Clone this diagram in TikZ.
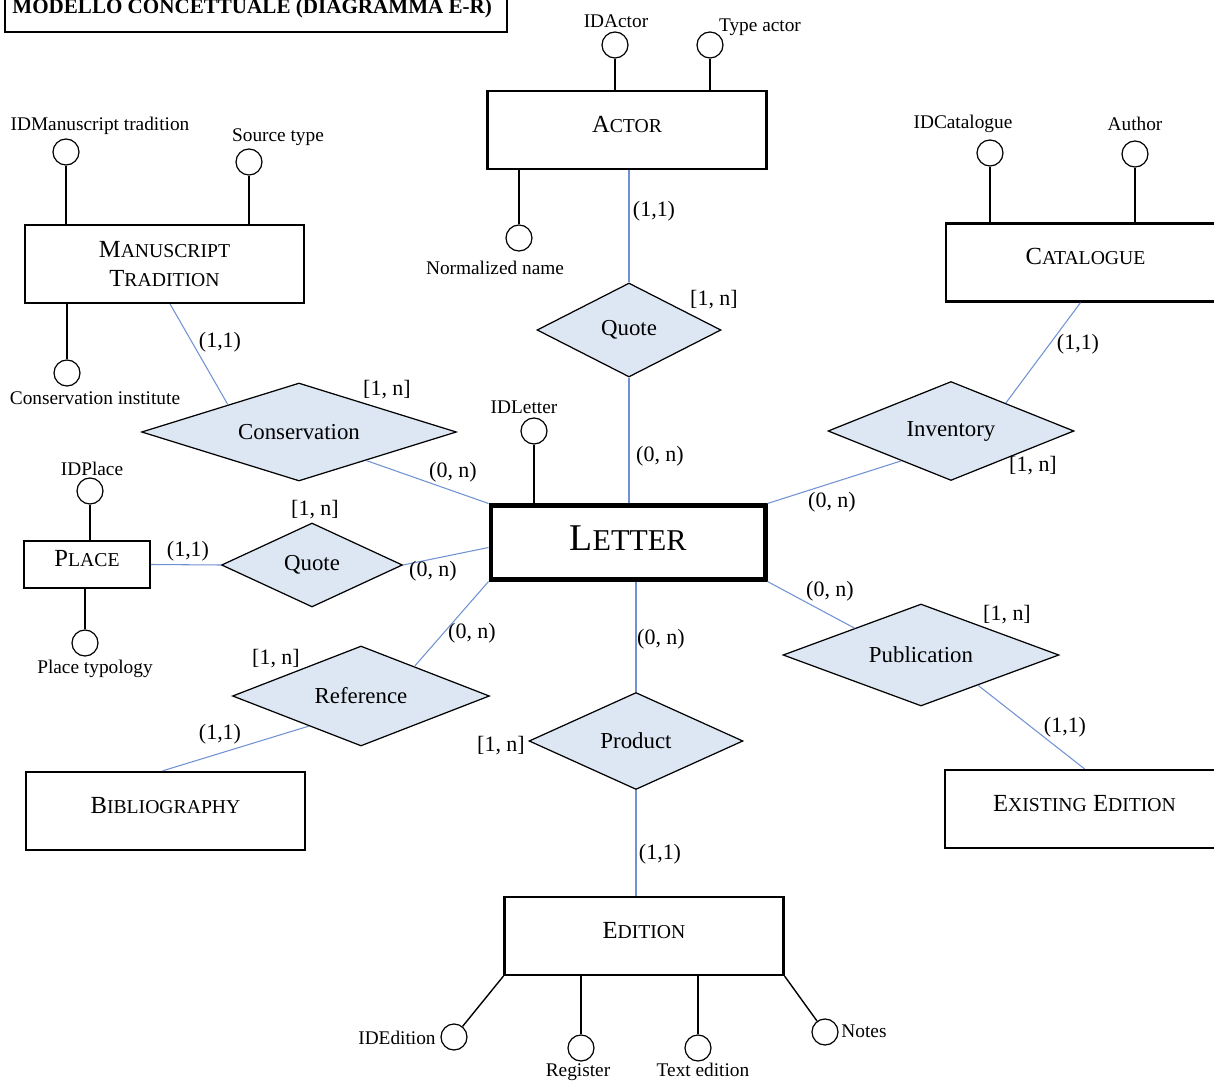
\documentclass[tikz,border=0pt]{standalone}
\usepackage{fontspec}
\setmainfont{Liberation Serif}
\usepackage{graphicx}
\usetikzlibrary{shapes.geometric}
\definecolor{lnkblue}{RGB}{112,146,210}
\definecolor{relfill}{RGB}{221,231,243}
\newcommand{\smcap}[2]{#1\scalebox{0.8}{#2}}

\begin{document}
\begin{tikzpicture}[x=0.02cm, y=-0.02cm,
  ent/.style={draw, line width=1.3pt, minimum width=5.58cm, minimum height=1.56cm,
              inner sep=0pt, align=center, font=\fontsize{14}{17}\selectfont},
  ent1/.style={ent, text height=0.3cm, text depth=0.21cm},
  rel/.style={diamond, aspect=2, draw, fill=relfill, line width=0.7pt, inner sep=0pt,
              font=\fontsize{13}{15}\selectfont},
  att/.style={circle, draw, line width=0.7pt, minimum size=0.52cm, inner sep=0pt},
  atl/.style={font=\fontsize{11}{13}\selectfont, inner sep=1pt},
  card/.style={font=\fontsize{12.5}{14}\selectfont, inner sep=1pt},
  al/.style={line width=0.8pt},
  lnk/.style={draw=lnkblue, line width=0.6pt}]
\useasboundingbox (0,0) rectangle (1214,1081);

% title
\draw[line width=0.6pt] (5,-10) rectangle (507,32);
\node[anchor=base west, inner sep=0pt, font=\fontsize{12}{14}\selectfont\bfseries] (title) at (12,14)
  {MODELLO CONCETTUALE (DIAGRAMMA E-R)};

% entities
\node[ent1] (actor) at (627,130) {\smcap{A}{CTOR}};
\node[ent] (manu) at (164.5,264) {\smcap{M}{ANUSCRIPT}\\[-1pt]\smcap{T}{RADITION}};
\node[ent1] (cat) at (1085.5,262.5) {\smcap{C}{ATALOGUE}};
\node[ent1, minimum width=2.52cm, minimum height=0.94cm] (place) at (87,564.5) {\smcap{P}{LACE}};
\node[ent, line width=2.3pt, minimum width=5.5cm, minimum height=1.48cm,
      text height=0.5cm, text depth=0.2cm, font=\fontsize{21.5}{24}\selectfont] (letter) at (628,542.5) {\smcap{L}{ETTER}};
\node[ent1] (bib) at (165.5,811) {\smcap{B}{IBLIOGRAPHY}};
\node[ent1] (edition) at (644,936) {\smcap{E}{DITION}};
\node[ent1] (exist) at (1084.5,809) {\smcap{E}{XISTING} \smcap{E}{DITION}};

% relationships
\node[rel, minimum width=3.68cm, minimum height=1.88cm] (quoteA) at (629,330) {Quote};
\node[rel, minimum width=6.3cm, minimum height=1.96cm] (cons) at (299,432) {Conservation};
\node[rel, minimum width=3.62cm, minimum height=1.68cm] (quoteP) at (312,565) {Quote};
\node[rel, minimum width=5.14cm, minimum height=2.0cm] (ref) at (361,696) {Reference};
\node[rel, minimum width=4.28cm, minimum height=1.94cm] (product) at (636,741) {Product};
\node[rel, minimum width=4.92cm, minimum height=1.98cm] (inv) at (951,431) {Inventory};
\node[rel, minimum width=5.52cm, minimum height=2.04cm] (pub) at (921,655) {Publication};

% attributes
\node[att] (idactor) at (615,45) {};
\node[att] (typeactor) at (710,45) {};
\node[att] (normname) at (519,238) {};
\node[att] (idmanu) at (66,152) {};
\node[att] (srctype) at (249,162) {};
\node[att] (consinst) at (67,373) {};
\node[att] (idcat) at (990,153) {};
\node[att] (author) at (1135,154) {};
\node[att] (idletter) at (534,431) {};
\node[att] (idplace) at (90,491) {};
\node[att] (placetype) at (85,643) {};
\node[att] (idedition) at (454,1037) {};
\node[att] (register) at (581,1048) {};
\node[att] (textedition) at (698,1048) {};
\node[att] (notes) at (825,1032) {};

\node[atl] (l-idactor) at (616,21) {IDActor};
\node[atl] (l-typeactor) at (760,27) {Type actor};
\node[atl] (l-normname) at (495,268) {Normalized name};
\node[atl] (l-idmanu) at (100,126) {IDManuscript tradition};
\node[atl] (l-srctype) at (278,137) {Source type};
\node[atl] (l-consinst) at (95,398) {Conservation institute};
\node[atl] (l-idcat) at (963,124) {IDCatalogue};
\node[atl] (l-author) at (1135,124) {Author};
\node[atl] (l-idletter) at (524,407) {IDLetter};
\node[atl] (l-idplace) at (92,469) {IDPlace};
\node[atl] (l-placetype) at (95,669) {Place typology};
\node[atl] (l-idedition) at (397,1038) {IDEdition};
\node[atl] (l-register) at (578,1072) {Register};
\node[atl] (l-textedition) at (703,1070) {Text edition};
\node[atl] (l-notes) at (864,1031) {Notes};

\draw[al] (idactor.south) -- (idactor.south |- actor.north);
\draw[al] (typeactor.south) -- (typeactor.south |- actor.north);
\draw[al] (normname.north) -- (normname.north |- actor.south);
\draw[al] (idmanu.south) -- (idmanu.south |- manu.north);
\draw[al] (srctype.south) -- (srctype.south |- manu.north);
\draw[al] (consinst.north) -- (consinst.north |- manu.south);
\draw[al] (idcat.south) -- (idcat.south |- cat.north);
\draw[al] (author.south) -- (author.south |- cat.north);
\draw[al] (idletter.south) -- (idletter.south |- letter.north);
\draw[al] (idplace.south) -- (idplace.south |- place.north);
\draw[al] (placetype.north) -- (placetype.north |- place.south);
\draw[al] (edition.south west) -- (idedition.51);
\draw[al] (register.north) -- (register.north |- edition.south);
\draw[al] (textedition.north) -- (textedition.north |- edition.south);
\draw[al] (edition.south east) -- (notes.126);

% connectors
\draw[lnk] (quoteA.north) -- (quoteA.north |- actor.south);
\draw[lnk] (quoteA.south) -- (quoteA.south |- letter.north);
\draw[lnk] (manu.-82) -- (cons.159);
\draw[lnk] (cons.-23) -- (letter.north west);
\draw[lnk] (place.east) -- (quoteP.west);
\draw[lnk] (quoteP.east) -- ([yshift=-0.1cm]letter.west);
\draw[lnk] (ref.29) -- (letter.south west);
\draw[lnk] (ref.-150) -- ([xshift=-0.06cm]bib.north);
\draw[lnk] (product.north) -- (product.north |- letter.south);
\draw[lnk] (product.south) -- (product.south |- edition.north);
\draw[lnk] ([xshift=-0.1cm]cat.south) -- (inv.27);
\draw[lnk] (inv.-149) -- (letter.north east);
\draw[lnk] (letter.south east) -- (pub.158);
\draw[lnk] (pub.-28) -- (exist.north);

% cardinalities
\node[card] (c1) at (654,211) {(1,1)};
\node[card] (c2) at (714,300) {[1, n]};
\node[card] (c3) at (660,456) {(0, n)};
\node[card] (c4) at (220,342) {(1,1)};
\node[card] (c5) at (387,390) {[1, n]};
\node[card] (c6) at (453,472) {(0, n)};
\node[card] (c7) at (315,510) {[1, n]};
\node[card] (c8) at (188,551) {(1,1)};
\node[card] (c9) at (433,571) {(0, n)};
\node[card] (c10) at (472,633) {(0, n)};
\node[card] (c11) at (276,659) {[1, n]};
\node[card] (c12) at (220,734) {(1,1)};
\node[card] (c13) at (501,746) {[1, n]};
\node[card] (c14) at (661,639) {(0, n)};
\node[card] (c15) at (660,854) {(1,1)};
\node[card] (c16) at (1078,344) {(1,1)};
\node[card] (c17) at (1033,466) {[1, n]};
\node[card] (c18) at (832,502) {(0, n)};
\node[card] (c19) at (830,591) {(0, n)};
\node[card] (c20) at (1007,615) {[1, n]};
\node[card] (c21) at (1065,727) {(1,1)};
\end{tikzpicture}
\end{document}
